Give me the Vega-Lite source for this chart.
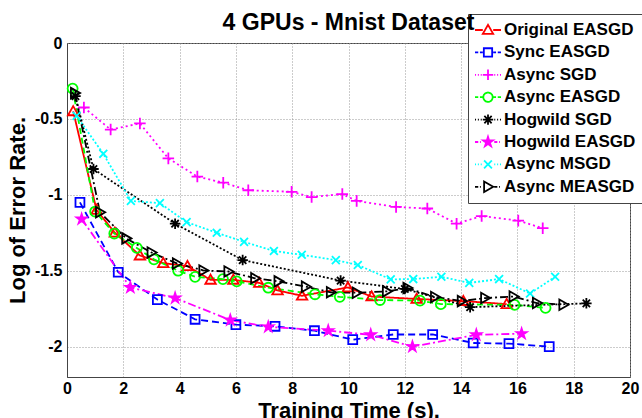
{
  "$schema": "https://vega.github.io/schema/vega-lite/v6.json",
  "autosize": {"type": "none"},
  "padding": {"left": 67, "top": 43, "right": 12, "bottom": 41},
  "width": 563,
  "height": 334,
  "background": "white",
  "config": {
    "font": "Liberation Sans",
    "view": {"stroke": "#444", "strokeWidth": 1},
    "axis": {
      "labelFont": "Liberation Sans", "labelFontSize": 16, "labelFontWeight": "bold", "labelColor": "black",
      "titleFont": "Liberation Sans", "titleFontSize": 22, "titleFontWeight": "bold", "titleColor": "black",
      "gridColor": "#999", "gridDash": [1, 2], "gridOpacity": 1, "gridWidth": 1,
      "domainColor": "#444", "ticks": false
    }
  },
  "title": {"text": "4 GPUs - Mnist Dataset", "fontSize": 23, "fontWeight": "bold", "font": "Liberation Sans", "color": "black", "offset": 1, "dy": 22, "anchor": "middle", "frame": "group"},
  "data": {"values": [
    {"series": "Original EASGD", "t": 0.22, "v": -0.45},
    {"series": "Original EASGD", "t": 1.05, "v": -1.10},
    {"series": "Original EASGD", "t": 1.7, "v": -1.25},
    {"series": "Original EASGD", "t": 2.59, "v": -1.40},
    {"series": "Original EASGD", "t": 3.42, "v": -1.45},
    {"series": "Original EASGD", "t": 4.28, "v": -1.47},
    {"series": "Original EASGD", "t": 5.1, "v": -1.56},
    {"series": "Original EASGD", "t": 5.91, "v": -1.56},
    {"series": "Original EASGD", "t": 6.83, "v": -1.58},
    {"series": "Original EASGD", "t": 7.48, "v": -1.63},
    {"series": "Original EASGD", "t": 8.35, "v": -1.665},
    {"series": "Original EASGD", "t": 9.98, "v": -1.61},
    {"series": "Original EASGD", "t": 10.82, "v": -1.67},
    {"series": "Original EASGD", "t": 12.42, "v": -1.686},
    {"series": "Original EASGD", "t": 14.08, "v": -1.70},
    {"series": "Original EASGD", "t": 15.62, "v": -1.72},

    {"series": "Sync EASGD", "t": 0.46, "v": -1.05},
    {"series": "Sync EASGD", "t": 1.82, "v": -1.51},
    {"series": "Sync EASGD", "t": 3.21, "v": -1.69},
    {"series": "Sync EASGD", "t": 4.55, "v": -1.82},
    {"series": "Sync EASGD", "t": 6.0, "v": -1.855},
    {"series": "Sync EASGD", "t": 7.39, "v": -1.866},
    {"series": "Sync EASGD", "t": 8.79, "v": -1.895},
    {"series": "Sync EASGD", "t": 10.15, "v": -1.954},
    {"series": "Sync EASGD", "t": 11.59, "v": -1.92},
    {"series": "Sync EASGD", "t": 12.99, "v": -1.92},
    {"series": "Sync EASGD", "t": 14.43, "v": -1.976},
    {"series": "Sync EASGD", "t": 15.7, "v": -1.98},
    {"series": "Sync EASGD", "t": 17.13, "v": -2.0},

    {"series": "Async SGD", "t": 0.6, "v": -0.425},
    {"series": "Async SGD", "t": 1.55, "v": -0.57},
    {"series": "Async SGD", "t": 2.59, "v": -0.53},
    {"series": "Async SGD", "t": 3.6, "v": -0.76},
    {"series": "Async SGD", "t": 4.63, "v": -0.88},
    {"series": "Async SGD", "t": 5.55, "v": -0.92},
    {"series": "Async SGD", "t": 6.44, "v": -0.97},
    {"series": "Async SGD", "t": 7.98, "v": -0.98},
    {"series": "Async SGD", "t": 8.69, "v": -1.015},
    {"series": "Async SGD", "t": 9.78, "v": -0.995},
    {"series": "Async SGD", "t": 10.29, "v": -1.04},
    {"series": "Async SGD", "t": 11.69, "v": -1.08},
    {"series": "Async SGD", "t": 12.8, "v": -1.09},
    {"series": "Async SGD", "t": 13.84, "v": -1.19},
    {"series": "Async SGD", "t": 14.73, "v": -1.14},
    {"series": "Async SGD", "t": 16.03, "v": -1.17},
    {"series": "Async SGD", "t": 16.9, "v": -1.22},

    {"series": "Async EASGD", "t": 0.2, "v": -0.30},
    {"series": "Async EASGD", "t": 1.0, "v": -1.11},
    {"series": "Async EASGD", "t": 1.68, "v": -1.255},
    {"series": "Async EASGD", "t": 2.48, "v": -1.35},
    {"series": "Async EASGD", "t": 3.09, "v": -1.425},
    {"series": "Async EASGD", "t": 3.95, "v": -1.50},
    {"series": "Async EASGD", "t": 4.55, "v": -1.54},
    {"series": "Async EASGD", "t": 5.54, "v": -1.555},
    {"series": "Async EASGD", "t": 6.03, "v": -1.57},
    {"series": "Async EASGD", "t": 7.15, "v": -1.612},
    {"series": "Async EASGD", "t": 8.81, "v": -1.655},
    {"series": "Async EASGD", "t": 9.69, "v": -1.672},
    {"series": "Async EASGD", "t": 11.12, "v": -1.693},
    {"series": "Async EASGD", "t": 12.54, "v": -1.697},
    {"series": "Async EASGD", "t": 13.28, "v": -1.72},
    {"series": "Async EASGD", "t": 15.9, "v": -1.725},
    {"series": "Async EASGD", "t": 17.0, "v": -1.745},

    {"series": "Hogwild SGD", "t": 0.3, "v": -0.35},
    {"series": "Hogwild SGD", "t": 0.94, "v": -0.83},
    {"series": "Hogwild SGD", "t": 3.84, "v": -1.19},
    {"series": "Hogwild SGD", "t": 6.24, "v": -1.43},
    {"series": "Hogwild SGD", "t": 9.72, "v": -1.565},
    {"series": "Hogwild SGD", "t": 12.0, "v": -1.62},
    {"series": "Hogwild SGD", "t": 14.32, "v": -1.74},
    {"series": "Hogwild SGD", "t": 18.45, "v": -1.715},

    {"series": "Hogwild EASGD", "t": 0.52, "v": -1.16},
    {"series": "Hogwild EASGD", "t": 2.25, "v": -1.61},
    {"series": "Hogwild EASGD", "t": 3.84, "v": -1.68},
    {"series": "Hogwild EASGD", "t": 5.8, "v": -1.825},
    {"series": "Hogwild EASGD", "t": 7.15, "v": -1.87},
    {"series": "Hogwild EASGD", "t": 9.28, "v": -1.895},
    {"series": "Hogwild EASGD", "t": 10.79, "v": -1.922},
    {"series": "Hogwild EASGD", "t": 12.27, "v": -2.0},
    {"series": "Hogwild EASGD", "t": 14.54, "v": -1.922},
    {"series": "Hogwild EASGD", "t": 16.15, "v": -1.915},

    {"series": "Async MSGD", "t": 0.34, "v": -0.48},
    {"series": "Async MSGD", "t": 1.29, "v": -0.73},
    {"series": "Async MSGD", "t": 2.27, "v": -1.04},
    {"series": "Async MSGD", "t": 3.3, "v": -1.055},
    {"series": "Async MSGD", "t": 4.25, "v": -1.18},
    {"series": "Async MSGD", "t": 5.32, "v": -1.25},
    {"series": "Async MSGD", "t": 6.29, "v": -1.31},
    {"series": "Async MSGD", "t": 7.35, "v": -1.37},
    {"series": "Async MSGD", "t": 8.34, "v": -1.395},
    {"series": "Async MSGD", "t": 9.55, "v": -1.43},
    {"series": "Async MSGD", "t": 10.33, "v": -1.462},
    {"series": "Async MSGD", "t": 11.5, "v": -1.557},
    {"series": "Async MSGD", "t": 12.3, "v": -1.555},
    {"series": "Async MSGD", "t": 13.3, "v": -1.54},
    {"series": "Async MSGD", "t": 14.29, "v": -1.58},
    {"series": "Async MSGD", "t": 15.35, "v": -1.555},
    {"series": "Async MSGD", "t": 16.45, "v": -1.65},
    {"series": "Async MSGD", "t": 17.34, "v": -1.54},

    {"series": "Async MEASGD", "t": 0.28, "v": -0.33},
    {"series": "Async MEASGD", "t": 1.17, "v": -1.115},
    {"series": "Async MEASGD", "t": 2.1, "v": -1.287},
    {"series": "Async MEASGD", "t": 3.0, "v": -1.38},
    {"series": "Async MEASGD", "t": 3.9, "v": -1.452},
    {"series": "Async MEASGD", "t": 4.84, "v": -1.498},
    {"series": "Async MEASGD", "t": 5.73, "v": -1.505},
    {"series": "Async MEASGD", "t": 6.68, "v": -1.55},
    {"series": "Async MEASGD", "t": 7.51, "v": -1.57},
    {"series": "Async MEASGD", "t": 8.48, "v": -1.605},
    {"series": "Async MEASGD", "t": 9.37, "v": -1.642},
    {"series": "Async MEASGD", "t": 10.29, "v": -1.645},
    {"series": "Async MEASGD", "t": 11.36, "v": -1.636},
    {"series": "Async MEASGD", "t": 12.09, "v": -1.614},
    {"series": "Async MEASGD", "t": 13.07, "v": -1.673},
    {"series": "Async MEASGD", "t": 14.02, "v": -1.70},
    {"series": "Async MEASGD", "t": 14.85, "v": -1.68},
    {"series": "Async MEASGD", "t": 15.86, "v": -1.67},
    {"series": "Async MEASGD", "t": 16.69, "v": -1.713},
    {"series": "Async MEASGD", "t": 17.63, "v": -1.724}
  ]},
  "encoding": {
    "x": {"field": "t", "type": "quantitative", "scale": {"domain": [0, 20], "nice": false, "zero": false},
      "axis": {"title": "Training Time (s).", "values": [0,2,4,6,8,10,12,14,16,18,20], "labelPadding": 3, "labelFlush": false,
        "titleY": 40, "titleBaseline": "alphabetic"}},
    "y": {"field": "v", "type": "quantitative", "scale": {"domain": [-2.2, 0], "nice": false, "zero": false},
      "axis": {"title": "Log of Error Rate.", "values": [0,-0.5,-1,-1.5,-2], "labelPadding": 5, "titlePadding": 5, "labelFlush": false,
        "labelExpr": "datum.value == 0 ? '0' : '-' + format(-datum.value, '')"}},
    "color": {"field": "series", "type": "nominal",
      "scale": {"domain": ["Original EASGD","Sync EASGD","Async SGD","Async EASGD","Hogwild SGD","Hogwild EASGD","Async MSGD","Async MEASGD"],
        "range": ["#FF0000","#0000FF","#FF00FF","#00FF00","#000000","#FF00FF","#00FFFF","#000000"]},
      "legend": {
        "title": null, "orient": "none", "legendX": 401, "legendY": -29,
        "fillColor": "white", "strokeColor": "#444", "padding": 6,
        "labelFont": "Liberation Sans", "labelFontSize": 17, "labelFontWeight": "bold", "labelColor": "black",
        "labelOffset": 2, "symbolSize": 676, "symbolStrokeWidth": 1.8, "rowPadding": 2.4, "clipHeight": 20,
        "symbolOpacity": 1,
        "encode": {"symbols": {"update": {
          "strokeDash": {"value": [1, 0]},
          "stroke": {"scale": "color", "field": "value"},
          "fill": {"signal": "datum.value === 'Hogwild EASGD' ? '#FF00FF' : 'transparent'"},
          "shape": {"signal": "datum.value === 'Original EASGD' ? 'M-1,0H-0.4M0.4,0H1M0,-0.4L0.4,0.3L-0.4,0.3Z' : datum.value === 'Sync EASGD' ? 'M-1,0H-0.75M-0.62,0H-0.4M0.4,0H0.62M0.75,0H1M-0.32,-0.32H0.32V0.32H-0.32Z' : datum.value === 'Async SGD' ? 'M-1,0H-0.92M-0.78,0H-0.7M-0.56,0H-0.48M0.48,0H0.56M0.7,0H0.78M0.92,0H1M-0.4,0H0.4M0,-0.4V0.4' : datum.value === 'Async EASGD' ? 'M-1,0H-0.75M-0.62,0H-0.38M0.38,0H0.62M0.75,0H1M-0.36,0A0.36,0.36 0 1,0 0.36,0A0.36,0.36 0 1,0 -0.36,0Z' : datum.value === 'Hogwild SGD' ? 'M-1,0H-0.92M-0.78,0H-0.7M-0.56,0H-0.48M0.48,0H0.56M0.7,0H0.78M0.92,0H1M-0.4,0H0.4M0,-0.4V0.4M-0.28,-0.28L0.28,0.28M-0.28,0.28L0.28,-0.28' : datum.value === 'Hogwild EASGD' ? 'M-1,0H-0.75M-0.62,0H-0.55M0.48,0H0.72M0.85,0H0.92M0,-0.4L0.089,-0.123L0.38,-0.124L0.144,0.047L0.235,0.324L0,0.152L-0.235,0.324L-0.144,0.047L-0.38,-0.124L-0.089,-0.123Z' : datum.value === 'Async MSGD' ? 'M-1,0H-0.92M-0.78,0H-0.7M-0.56,0H-0.48M0.48,0H0.56M0.7,0H0.78M0.92,0H1M-0.3,-0.3L0.3,0.3M-0.3,0.3L0.3,-0.3' : 'M-1,0H-0.75M-0.62,0H-0.55M0.48,0H0.72M0.85,0H0.92M0.4,0L-0.3,-0.4L-0.3,0.4Z'"}
        }}}
      }
    }
  },
  "layer": [
    {
      "mark": {"type": "line", "strokeWidth": 1.8},
      "encoding": {
        "strokeDash": {"condition": [
          {"test": "datum.series === 'Sync EASGD'", "value": [7, 4]},
          {"test": "datum.series === 'Async SGD'", "value": [2, 3]},
          {"test": "datum.series === 'Async EASGD'", "value": [6, 4]},
          {"test": "datum.series === 'Hogwild SGD' || datum.series === 'Async MSGD'", "value": [2, 2]},
          {"test": "datum.series === 'Hogwild EASGD' || datum.series === 'Async MEASGD'", "value": [8, 3, 2, 3]}
        ], "value": [1, 0]}
      }
    },
    {
      "mark": {"type": "point", "filled": false, "size": 110, "strokeWidth": 1.8, "opacity": 1},
      "encoding": {
        "shape": {"condition": [
          {"test": "datum.series === 'Original EASGD'", "value": "M0,-1L1,0.75L-1,0.75Z"},
          {"test": "datum.series === 'Sync EASGD'", "value": "M-0.85,-0.85H0.85V0.85H-0.85Z"},
          {"test": "datum.series === 'Async SGD'", "value": "M-1.1,0H1.1M0,-1.1V1.1"},
          {"test": "datum.series === 'Async EASGD'", "value": "M-0.95,0A0.95,0.95 0 1,0 0.95,0A0.95,0.95 0 1,0 -0.95,0Z"},
          {"test": "datum.series === 'Hogwild SGD'", "value": "M-1,0H1M0,-1V1M-0.7,-0.7L0.7,0.7M-0.7,0.7L0.7,-0.7"},
          {"test": "datum.series === 'Hogwild EASGD'", "value": "M0,-1L0.223,-0.307L0.951,-0.309L0.361,0.117L0.588,0.809L0,0.38L-0.588,0.809L-0.361,0.117L-0.951,-0.309L-0.223,-0.307Z"},
          {"test": "datum.series === 'Async MSGD'", "value": "M-0.75,-0.75L0.75,0.75M-0.75,0.75L0.75,-0.75"}
        ], "value": "M1,0L-0.75,-1L-0.75,1Z"},
        "fill": {"condition": {"test": "datum.series === 'Hogwild EASGD'", "value": "#FF00FF"}, "value": "transparent"}
      }
    }
  ]
}
